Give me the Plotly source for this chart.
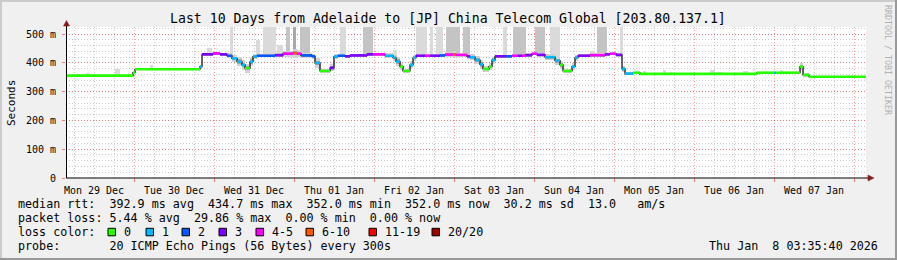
import plotly.graph_objects as go
import pandas as pd

# ---------------- data ----------------
base_time = pd.Timestamp("2025-12-29 00:00:00")
range_start = pd.Timestamp("2025-12-29 03:35:40")
range_end = pd.Timestamp("2026-01-08 03:35:40")

# median rtt steps: start hour (from 29 Dec 00:00), median ms, loss class, smoke half-spread ms
step_hours = [3.6, 23.7, 24.3, 43.8, 44.4, 47.7, 49.8, 51.9, 53.4, 54.9,
              56.4, 57.3, 58.8, 59.7, 60.9, 66.3, 68.7, 71.7, 72.9, 74.1,
              77.4, 78.3, 79.8, 82.8, 84.0, 85.2, 87.3, 88.8, 93.9, 95.7,
              99.3, 101.7, 102.6, 103.8, 104.7, 106.8, 107.7, 108.6, 111.3, 112.8,
              115.8, 117.3, 119.7, 120.6, 123.9, 124.8, 126.3, 127.8, 128.7, 130.5,
              131.4, 132.3, 135.3, 137.4, 139.2, 140.4, 141.3, 143.4, 144.9, 147.3,
              150.3, 151.8, 152.7, 155.4, 156.3, 157.2, 160.8, 165.3, 166.8, 168.6,
              170.4, 171.3, 173.7, 175.8, 210.9, 216.0, 216.6, 223.8, 224.7, 226.5]
median_ms = [356, 366, 378, 387, 430, 433, 430, 425, 416, 404,
             393, 382, 404, 422, 425, 427, 432, 434, 432, 426,
             423, 400, 372, 383, 422, 425, 423, 426, 430, 430,
             425, 418, 405, 387, 372, 393, 418, 425, 425, 425,
             426, 429, 430, 428, 423, 420, 410, 395, 379, 387,
             410, 423, 423, 425, 425, 425, 427, 432, 428, 420,
             408, 393, 372, 387, 418, 425, 427, 430, 432, 428,
             379, 363, 366, 362, 366, 366, 366, 387, 358, 352]
loss_class = [0, 0, 0, 1, 3, 4, 3, 2, 1, 1,
              1, 0, 1, 1, 2, 3, 4, 5, 4, 2,
              2, 1, 0, 3, 1, 2, 3, 3, 3, 4,
              1, 1, 1, 0, 0, 1, 1, 3, 4, 3,
              2, 4, 5, 4, 3, 1, 1, 1, 0, 0,
              1, 3, 2, 4, 3, 4, 3, 4, 3, 1,
              1, 0, 0, 1, 1, 3, 4, 3, 4, 3,
              1, 1, 0, 0, 0, 1, 0, 0, 0, 0]
smoke_ms = [0, 0, 0, 3, 3, 3, 3, 4, 6, 8,
            8, 8, 8, 5, 3, 3, 5, 8, 6, 4,
            4, 8, 4, 6, 5, 3, 3, 3, 3, 3,
            4, 6, 8, 6, 4, 6, 5, 3, 3, 3,
            3, 4, 5, 4, 4, 5, 7, 8, 5, 6,
            6, 3, 3, 3, 3, 3, 3, 3, 3, 5,
            7, 7, 4, 6, 5, 3, 3, 3, 3, 4,
            6, 3, 2, 0, 0, 0, 0, 6, 3, 0]

# outlier smoke bars: start hour, end hour, low ms, high ms, density (1 light .. 3 dark)
bar_start_h = [45.9, 52.8, 60.6, 62.7, 66.9, 69.6, 71.7, 73.8, 85.8, 92.7,
               101.7, 108.6, 112.8, 114.6, 117.6, 122.7, 134.7, 137.7, 144.3, 148.8,
               160.8, 162.9, 169.8, 9.6, 18.3, 28.8, 31.5, 176.7, 182.7, 184.8,
               196.8, 198.6, 206.7, 217.8, 237.9]
bar_end_h = [47.4, 53.7, 61.8, 66.6, 68.7, 70.8, 72.6, 76.8, 87.6, 95.7,
             102.9, 111.9, 113.7, 116.7, 121.8, 124.8, 135.9, 141.6, 147.3, 151.8,
             162.3, 165.9, 170.7, 10.8, 19.8, 29.7, 32.7, 177.6, 183.6, 185.7,
             198.3, 200.7, 208.2, 218.7, 238.5]
bar_lo_ms = [432, 420, 428, 428, 430, 434, 440, 428, 426, 431,
             420, 427, 427, 428, 432, 425, 425, 427, 430, 415,
             429, 430, 428, 356, 356, 378, 378, 362, 362, 362,
             362, 362, 362, 366, 352]
bar_hi_ms = [451, 524, 478, 524, 462, 524, 524, 524, 524, 524,
             445, 524, 524, 524, 524, 524, 524, 524, 524, 524,
             441, 524, 524, 364, 378, 393, 383, 372, 374, 369,
             376, 368, 371, 374, 358]
bar_density = [1, 1, 1, 1, 1, 2, 3, 2, 1, 2,
               1, 1, 1, 1, 2, 2, 1, 2, 2, 1,
               1, 2, 1, 1, 1, 1, 1, 1, 1, 1,
               1, 1, 1, 1, 1]

loss_labels = ["0", "1", "2", "3", "4-5", "6-10", "11-19", "20/20"]
loss_colors = ["#26ff00", "#00b8ff", "#0059ff", "#7e00ff", "#ff00ff", "#ff5500", "#ff0000", "#a10000"]

y_tick_vals = [0, 100, 200, 300, 400, 500]
y_tick_text = ["0", "100 m", "200 m", "300 m", "400 m", "500 m"]

title_text = "Last 10 Days from Adelaide to [JP] China Telecom Global [203.80.137.1]"
legend_lines = [
    "median rtt:  392.9 ms avg  434.7 ms max  352.0 ms min  352.0 ms now  30.2 ms sd  13.0   am/s",
    "packet loss: 5.44 % avg  29.86 % max  0.00 % min  0.00 % now",
    "loss color:",
    "probe:       20 ICMP Echo Pings (56 Bytes) every 300s",
]
stamp_text = "Thu Jan  8 03:35:40 2026"
watermark = "RRDTOOL / TOBI OETIKER"

# ---------------- helpers ----------------
W, H = 897, 260
ML, MR, MT, MB = 66, 31, 27, 82
PW, PH = W - ML - MR, H - MT - MB
FONT = "DejaVu Sans Mono"


def px(x):
    return (x - ML) / PW


def py(y):
    return (H - MB - y) / PH


def T(h):
    return base_time + pd.Timedelta(hours=h)


def nb(s):
    return s.replace(" ", "\u00a0")


end_h = (range_end - base_time).total_seconds() / 3600.0
bounds = step_hours + [end_h]

fig = go.Figure()

# outlier smoke
dens_col = {1: "#dadada", 2: "#c4c4c4", 3: "#a8a8a8"}
fig.add_trace(go.Bar(
    x=[T((a + b) / 2) for a, b in zip(bar_start_h, bar_end_h)],
    y=[hi - lo for lo, hi in zip(bar_lo_ms, bar_hi_ms)],
    base=bar_lo_ms,
    width=[(b - a) * 3600 * 1000 for a, b in zip(bar_start_h, bar_end_h)],
    marker=dict(color=[dens_col[d] for d in bar_density], line=dict(width=0)),
    hoverinfo="skip", showlegend=False))

# smoke around the median
for mult, col in [(2.0, "#d2d2d2"), (1.0, "#a6a6a6")]:
    xs, ys, bs, ws = [], [], [], []
    for i, s in enumerate(smoke_ms):
        if s <= 0:
            continue
        a, b = bounds[i], bounds[i + 1]
        xs.append(T((a + b) / 2))
        ys.append(2 * s * mult)
        bs.append(median_ms[i] - s * mult)
        ws.append((b - a) * 3600 * 1000)
    fig.add_trace(go.Bar(x=xs, y=ys, base=bs, width=ws,
                         marker=dict(color=col, line=dict(width=0)),
                         hoverinfo="skip", showlegend=False))

# black step line (vertical transitions)
fig.add_trace(go.Scatter(
    x=[T(h) for h in bounds], y=median_ms + [median_ms[-1]],
    mode="lines", line=dict(color="#000000", width=1.2, shape="hv"),
    hoverinfo="skip", showlegend=False))

# coloured horizontal segments by loss class
for c, col in enumerate(loss_colors):
    xs, ys = [], []
    for i, lc in enumerate(loss_class):
        if lc != c:
            continue
        xs += [T(bounds[i]), T(bounds[i + 1]), None]
        ys += [median_ms[i], median_ms[i], None]
    if xs:
        fig.add_trace(go.Scatter(x=xs, y=ys, mode="lines",
                                 line=dict(color=col, width=2.6),
                                 hoverinfo="skip", showlegend=False))

shapes = []
# frame (3D look)
shapes.append(dict(type="rect", xref="paper", yref="paper", x0=px(0), x1=px(W), y0=py(0), y1=py(2),
                   fillcolor="#cbcbcb", line=dict(width=0), layer="below"))
shapes.append(dict(type="rect", xref="paper", yref="paper", x0=px(0), x1=px(2), y0=py(0), y1=py(H),
                   fillcolor="#cbcbcb", line=dict(width=0), layer="below"))
shapes.append(dict(type="rect", xref="paper", yref="paper", x0=px(0), x1=px(W), y0=py(H - 2), y1=py(H),
                   fillcolor="#999999", line=dict(width=0), layer="below"))
shapes.append(dict(type="rect", xref="paper", yref="paper", x0=px(W - 2), x1=px(W), y0=py(0), y1=py(H),
                   fillcolor="#999999", line=dict(width=0), layer="below"))
# axis lines
shapes.append(dict(type="line", xref="paper", yref="paper", x0=px(66), x1=px(869), y0=py(178), y1=py(178),
                   line=dict(color="#000000", width=1)))
shapes.append(dict(type="line", xref="paper", yref="paper", x0=px(66.5), x1=px(66.5), y0=py(178), y1=py(25),
                   line=dict(color="#000000", width=1)))
# arrows
shapes.append(dict(type="path", xref="paper", yref="paper",
                   path=f"M {px(63.5)} {py(26)} L {px(69.5)} {py(26)} L {px(66.5)} {py(20.5)} Z",
                   fillcolor="#8b1a1a", line=dict(color="#8b1a1a", width=0.5)))
shapes.append(dict(type="path", xref="paper", yref="paper",
                   path=f"M {px(868)} {py(175)} L {px(868)} {py(181)} L {px(874)} {py(178)} Z",
                   fillcolor="#8b1a1a", line=dict(color="#8b1a1a", width=0.5)))

annotations = []
annotations.append(dict(text=nb(title_text), xref="paper", yref="paper", x=px(448), y=py(19),
                        xanchor="center", yanchor="middle", showarrow=False,
                        font=dict(family=FONT, size=13.2, color="#000000")))
annotations.append(dict(text="Seconds", xref="paper", yref="paper", x=px(11), y=py(103),
                        xanchor="center", yanchor="middle", showarrow=False, textangle=-90,
                        font=dict(family=FONT, size=11, color="#000000")))
annotations.append(dict(text=nb(watermark), xref="paper", yref="paper", x=px(888), y=py(60),
                        xanchor="center", yanchor="middle", showarrow=False, textangle=90,
                        font=dict(family=FONT, size=8.3, color="#b0b0b0")))
line_y = [204, 218, 232, 246]
for txt, yy in zip(legend_lines, line_y):
    annotations.append(dict(text=nb(txt), xref="paper", yref="paper", x=px(16), y=py(yy),
                            xanchor="left", yanchor="middle", showarrow=False,
                            font=dict(family=FONT, size=11.7, color="#000000")))
annotations.append(dict(text=nb(stamp_text), xref="paper", yref="paper", x=px(880), y=py(246),
                        xanchor="right", yanchor="middle", showarrow=False,
                        font=dict(family=FONT, size=11.7, color="#000000")))
swatch_x = [108, 146, 182, 219, 256, 306, 369, 432]
for lab, col, sx in zip(loss_labels, loss_colors, swatch_x):
    shapes.append(dict(type="rect", xref="paper", yref="paper", x0=px(sx), x1=px(sx + 7.5),
                       y0=py(235.8), y1=py(228.3), fillcolor=col, line=dict(color="#000000", width=1)))
    annotations.append(dict(text=nb(lab), xref="paper", yref="paper", x=px(sx + 14), y=py(232),
                            xanchor="left", yanchor="middle", showarrow=False,
                            font=dict(family=FONT, size=11.7, color="#000000")))

fig.update_layout(
    width=W, height=H, autosize=False,
    margin=dict(l=ML, r=MR, t=MT, b=MB, pad=0),
    paper_bgcolor="#f0f0f0", plot_bgcolor="#ffffff",
    barmode="overlay", bargap=0, showlegend=False,
    shapes=shapes, annotations=annotations,
    font=dict(family=FONT, size=10, color="#000000"),
    xaxis=dict(
        type="date", range=[range_start, range_end],
        tick0="2025-12-29", dtick=86400000, tickformat="%a %d %b", ticklabelmode="period",
        showgrid=True, gridcolor="rgba(255,0,0,0.38)", griddash="1px,2px", gridwidth=1,
        minor=dict(dtick=6 * 3600 * 1000, showgrid=True, gridcolor="rgba(120,120,120,0.38)",
                   griddash="1px,2px", gridwidth=1),
        ticks="outside", ticklen=3, tickcolor="rgba(255,0,0,0.5)",
        showline=False, zeroline=False, fixedrange=True,
        tickfont=dict(family=FONT, size=10, color="#000000"),
    ),
    yaxis=dict(
        range=[0, PH / 0.2877], tickvals=y_tick_vals, ticktext=[nb(t) for t in y_tick_text],
        showgrid=True, gridcolor="rgba(255,0,0,0.38)", griddash="1px,2px", gridwidth=1,
        minor=dict(dtick=20, showgrid=True, gridcolor="rgba(120,120,120,0.38)",
                   griddash="1px,2px", gridwidth=1),
        ticks="outside", ticklen=3, tickcolor="rgba(255,0,0,0.5)",
        ticklabelstandoff=4,
        showline=False, zeroline=False, fixedrange=True,
        tickfont=dict(family=FONT, size=10, color="#000000"),
    ),
)

fig.write_html("out.html")
